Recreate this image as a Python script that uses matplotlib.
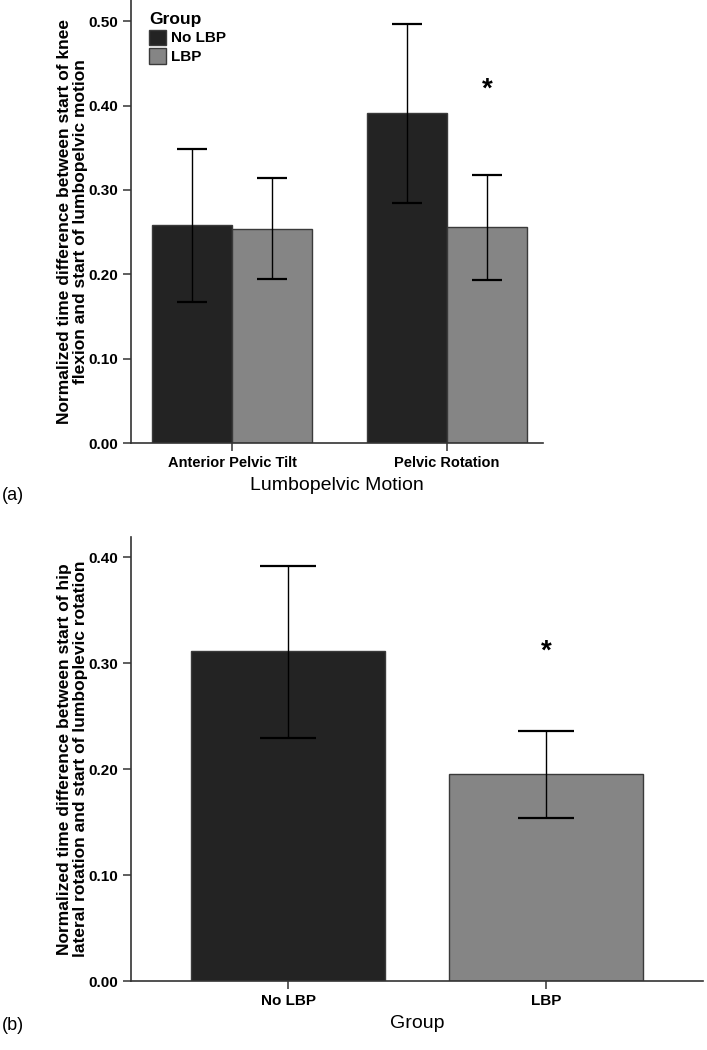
import numpy as np
import matplotlib.pyplot as plt

# panel (a)
motions = ['Anterior Pelvic Tilt', 'Pelvic Rotation']
groups = ['No LBP', 'LBP']
a_mean = {'No LBP': [0.258, 0.391], 'LBP': [0.254, 0.256]}
a_low = {'No LBP': [0.167, 0.285], 'LBP': [0.194, 0.193]}
a_high = {'No LBP': [0.349, 0.497], 'LBP': [0.314, 0.318]}

# panel (b)
b_mean = [0.311, 0.195]
b_low = [0.229, 0.154]
b_high = [0.392, 0.236]

colors = {'No LBP': '#232323', 'LBP': '#858585'}
edge = '#3a3a3a'
bold = dict(family='Liberation Sans', weight='bold')
narrow = dict(family=['Liberation Sans Narrow', 'Liberation Sans'], weight='bold')

fig = plt.figure(figsize=(7.07, 10.5), dpi=100)
ax1 = fig.add_axes([0.1853, 0.578, 0.5827, 0.422])
ax2 = fig.add_axes([0.1853, 0.0657, 0.809, 0.4229])


def style(ax):
    for s in ['top', 'right']:
        ax.spines[s].set_visible(False)
    for s in ['left', 'bottom']:
        ax.spines[s].set_color('#333333')
        ax.spines[s].set_linewidth(1.2)
    ax.tick_params(axis='both', direction='out', length=6, width=1.1, color='#333333')
    for lab in ax.get_yticklabels():
        lab.set_family(narrow['family'])
        lab.set_weight('bold')
        lab.set_fontsize(11)


x = np.arange(len(motions))
w = 0.372
for i, g in enumerate(groups):
    pos = x + (i - 0.5) * w
    m = np.array(a_mean[g])
    err = [m - np.array(a_low[g]), np.array(a_high[g]) - m]
    ax1.bar(pos, m, width=w, color=colors[g], edgecolor=edge, linewidth=1.0, label=g)
    ax1.errorbar(pos, m, yerr=err, fmt='none', ecolor='black', elinewidth=1.0,
                 capsize=10.5, capthick=1.6)
ax1.set_xlim(-0.47, 1.447)
ax1.set_ylim(0, 0.525)
ax1.set_yticks([0, 0.1, 0.2, 0.3, 0.4, 0.5])
ax1.set_yticklabels(['%.2f' % v for v in ax1.get_yticks()])
ax1.set_xticks(x)
ax1.set_xticklabels(motions, fontsize=10.5, **bold)
style(ax1)
ax1.set_xlabel('Lumbopelvic Motion', fontsize=14, family='Liberation Sans', labelpad=5)
ax1.set_ylabel('Normalized time difference between start of knee\nflexion and start of lumbopelvic motion',
               fontsize=12.5, labelpad=0, linespacing=1.1, **bold)
ax1.text(x[1] + 0.5 * w, 0.419, '*', ha='center', va='center', fontsize=20, **bold)
leg = ax1.legend(title='Group', loc='upper left', bbox_to_anchor=(0.01, 1.005), frameon=False,
                 handlelength=1.15, handleheight=1.15, handletextpad=0.3, labelspacing=0.2,
                 alignment='left', prop={'family': narrow['family'], 'weight': 'bold', 'size': 11})
leg.get_title().set_fontweight('bold')
leg.get_title().set_fontfamily('Liberation Sans')
leg.get_title().set_fontsize(12.5)

xb = np.arange(len(groups))
mb = np.array(b_mean)
errb = [mb - np.array(b_low), np.array(b_high) - mb]
ax2.bar(xb, mb, width=0.752, color=[colors[g] for g in groups], edgecolor=edge, linewidth=1.0)
ax2.errorbar(xb, mb, yerr=errb, fmt='none', ecolor='black', elinewidth=1.0,
             capsize=20.5, capthick=1.6)
ax2.set_xlim(-0.61, 1.61)
ax2.set_ylim(0, 0.419)
ax2.set_yticks([0, 0.1, 0.2, 0.3, 0.4])
ax2.set_yticklabels(['%.2f' % v for v in ax2.get_yticks()])
ax2.set_xticks(xb)
ax2.set_xticklabels(groups, fontsize=11, family=narrow['family'], weight='bold')
style(ax2)
ax2.set_xlabel('Group', fontsize=14, family='Liberation Sans', labelpad=5)
ax2.set_ylabel('Normalized time difference between start of hip\nlateral rotation and start of lumboplevic rotation',
               fontsize=12.5, labelpad=0, linespacing=1.1, **bold)
ax2.text(xb[1], 0.311, '*', ha='center', va='center', fontsize=20, **bold)

fig.text(0.002, 1 - 495 / 1050, '(a)', fontsize=13, family='Liberation Sans', va='center')
fig.text(0.002, 1 - 1025 / 1050, '(b)', fontsize=13, family='Liberation Sans', va='center')

fig.savefig('out.png', dpi=100)
